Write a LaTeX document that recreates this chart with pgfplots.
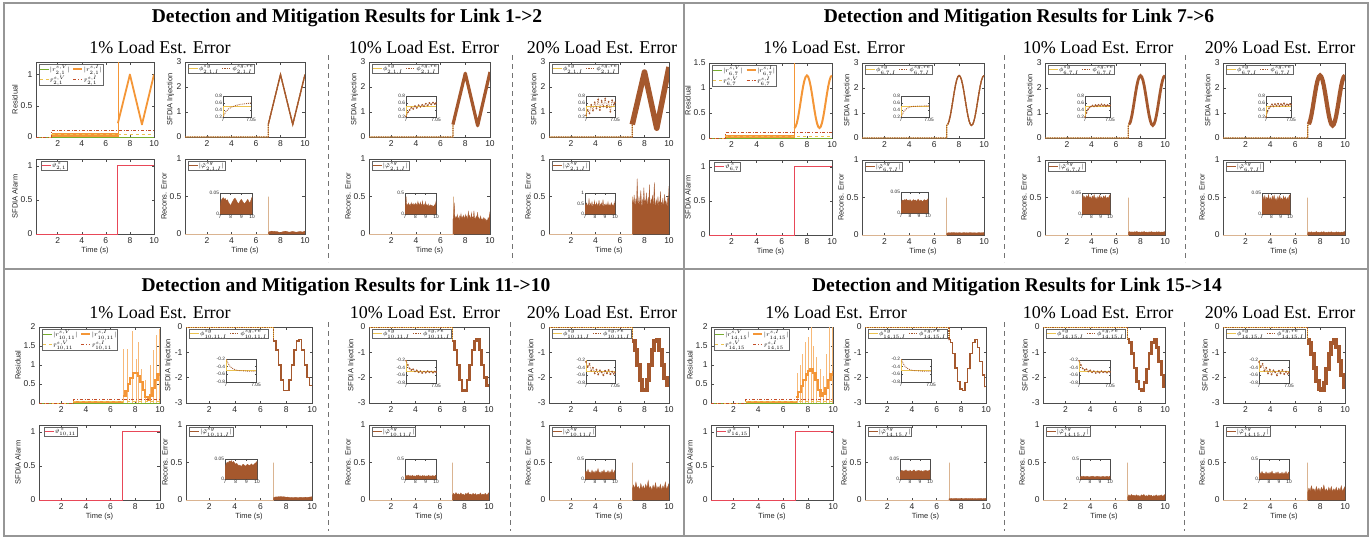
\documentclass[border=0pt]{standalone}
\usepackage{fontspec}
\setmainfont{Liberation Serif}
\setsansfont{Liberation Sans}
\usepackage{pgfplots}
\pgfplotsset{compat=1.18}
\usepackage{pgfplotstable}

\definecolor{cgreen}{RGB}{119,172,48}
\definecolor{corange}{RGB}{244,150,55}
\definecolor{clorange}{RGB}{247,185,120}
\definecolor{cyellow}{RGB}{236,195,80}
\definecolor{cdred}{RGB}{196,78,40}
\definecolor{cbrown}{RGB}{165,88,45}
\definecolor{ctan}{RGB}{218,180,145}
\definecolor{cred}{RGB}{232,72,88}
\definecolor{cframe}{RGB}{150,150,150}

\newcommand\tickf{\fontsize{8.5}{9}\selectfont\sffamily}
\newcommand\labf{\fontsize{7.5}{8}\selectfont\sffamily}
\newcommand\legf{\fontsize{6}{6.5}\selectfont}
\newcommand\insf{\fontsize{4.8}{5}\selectfont\sffamily}
\newcommand\hdf{\fontsize{18}{19}\selectfont}
\newcommand\ttf{\fontsize{19.5}{20}\selectfont\bfseries}

\pgfplotsset{
  mat/.style={scale only axis, anchor=north west, xmin=0.2, xmax=10, xtick={2,4,6,8,10},
    scaled ticks=false,
    axis line style={black!70, line width=0.6pt},
    tick align=inside, major tick length=2.5pt, tick style={black!70, line width=0.5pt},
    ticklabel style={font=\tickf, text=black!85},
    /pgf/number format/assume math mode=true,
    label style={font=\labf, text=black!85},
    xlabel style={yshift=3pt}, ylabel style={yshift=-4pt},
    legend style={font=\legf, draw=black!60, line width=0.4pt, inner sep=0.5pt, outer sep=0pt,
      at={(0.025,0.97)}, anchor=north west, fill=white, row sep=1.2pt,
      /tikz/every even column/.append style={column sep=2pt},
      nodes={inner sep=0.6pt}},
    legend cell align=left,
    legend image code/.code={\draw[##1] (0pt,0pt) -- (9pt,0pt);},
  },
  ins/.style={scale only axis, anchor=north west, axis background/.style={fill=white},
    scaled ticks=false,
    axis line style={black!70, line width=0.5pt}, tick align=inside, major tick length=1.5pt,
    tick style={black!70, line width=0.4pt},
    ticklabel style={font=\insf, text=black!85, inner sep=0.8pt},
    /pgf/number format/assume math mode=true,
  },
  insI/.style={ins, xmin=7, xmax=7.05, xtick={7,7.05}, xticklabels={7,7.05}},
  insIp/.style={insI, ymin=0.2, ymax=0.8, ytick={0.2,0.4,0.6,0.8}, yticklabels={0.2,0.4,0.6,0.8}},
  insIn/.style={insI, ymin=-0.8, ymax=-0.2, ytick={-0.8,-0.6,-0.4,-0.2}, yticklabels={-0.8,-0.6,-0.4,-0.2}},
  insE/.style={ins, xmin=7, xmax=10, xtick={7,8,9,10}, xticklabels={7,8,9,10}},
  res/.style={mat, ylabel={Residual}, legend columns=2, ymin=0},
  inj/.style={mat, ylabel={SFDIA Injection}, legend columns=2},
  alm/.style={mat, ylabel={SFDIA Alarm}, xlabel={Time (s)}, ymin=0, ymax=1.1, ytick={0,0.5,1}, clip=false,
    legend style={at={(0.04,0.965)}}},
  rec/.style={mat, ylabel={Recons. Error}, xlabel={Time (s)}, ymin=0, ymax=1, ytick={0,0.5,1}},
  yl/.style={cyellow, line width=0.9pt},
  brd/.style={cbrown, densely dotted, line width=1.3pt},
  fl/.style={draw=cbrown, fill=cbrown, line width=0.3pt},
  dts/.style={cbrown, densely dotted, line width=0.7pt, mark=*, mark size=0.45pt, mark options={solid}},
}

% ---------------- data ----------------
\pgfplotstableread{
t v
0.2 0
7 0
7 0.5
8 2.5
9 0.5
10 2.5
}\triI
\pgfplotstableread{
t v
0.2 0
7.0 0
7.0 0.50
7.1 0.55
7.2 0.69
7.3 0.91
7.4 1.19
7.5 1.50
7.6 1.81
7.7 2.09
7.8 2.31
7.9 2.45
8.0 2.50
8.1 2.45
8.2 2.31
8.3 2.09
8.4 1.81
8.5 1.50
8.6 1.19
8.7 0.91
8.8 0.69
8.9 0.55
9.0 0.50
9.1 0.55
9.2 0.69
9.3 0.91
9.4 1.19
9.5 1.50
9.6 1.81
9.7 2.09
9.8 2.31
9.9 2.45
10.0 2.50
}\sinI
\pgfplotstableread{
t v
7.0 0.200
7.1 0.226
7.2 0.300
7.3 0.416
7.4 0.563
7.5 0.725
7.6 0.887
7.7 1.034
7.8 1.150
7.9 1.224
8.0 1.250
8.1 1.224
8.2 1.150
8.3 1.034
8.4 0.887
8.5 0.725
8.6 0.563
8.7 0.416
8.8 0.300
8.9 0.226
9.0 0.200
9.1 0.226
9.2 0.300
9.3 0.416
9.4 0.563
9.5 0.725
9.6 0.887
9.7 1.034
9.8 1.150
9.9 1.224
10.0 1.250
}\sinR
\pgfplotstableread{
t v
0.2 0
7.0 -0.55
7.2 -0.91
7.4 -1.50
7.6 -2.09
7.8 -2.50
8.0 -2.50
8.2 -2.09
8.4 -1.50
8.6 -0.91
8.8 -0.55
9.0 -0.50
9.2 -0.91
9.4 -1.50
9.6 -2.00
9.8 -2.30
10.0 -2.30
}\stC
\pgfplotstableread{
t v
0.2 0
7.0 -0.50
7.1 -0.62
7.3 -1.05
7.5 -1.62
7.7 -2.15
7.9 -2.45
8.1 -2.50
8.3 -2.20
8.5 -1.65
8.7 -1.05
8.9 -0.62
9.1 -0.50
9.3 -0.80
9.5 -1.35
9.7 -1.90
9.9 -2.35
10.0 -2.35
}\stD
\pgfplotstableread{
t v
7.0 0.18
7.2 0.32
7.4 0.50
7.6 0.65
7.8 0.78
8.0 0.80
8.2 0.72
8.4 0.55
8.6 0.35
8.8 0.15
9.0 0.08
9.2 0.20
9.4 0.40
9.6 0.60
9.8 0.75
10.0 0.80
}\baseC
\pgfplotstableread{
t v
7.05 1.42
7.35 1.42
7.74 1.90
8.10 1.15
8.28 1.60
8.50 0.90
8.83 0.60
9.19 1.00
9.46 1.40
9.68 1.80
9.98 1.95
}\spkC
\pgfplotstableread{
t v
7.0 0.15
7.2 0.30
7.4 0.45
7.6 0.60
7.8 0.75
8.0 0.85
8.2 0.90
8.4 0.80
8.6 0.60
8.8 0.35
9.0 0.20
9.2 0.25
9.4 0.40
9.6 0.60
9.8 0.75
10.0 0.85
}\baseD
\pgfplotstableread{
t v
7.10 0.80
7.35 1.00
7.55 1.30
7.80 1.60
8.05 1.75
8.25 2.20
8.45 1.50
8.70 1.20
8.95 0.90
9.20 0.70
9.45 1.30
9.70 2.20
9.95 2.20
}\spkD
% recons tables
\pgfplotstableread{
t v
7.0 0.015
7.1 0.032
7.2 0.036
7.3 0.039
7.4 0.035
7.5 0.037
7.6 0.031
7.7 0.034
7.8 0.027
7.9 0.024
8.0 0.020
8.1 0.026
8.2 0.031
8.3 0.035
8.4 0.038
8.5 0.034
8.6 0.029
8.7 0.025
8.8 0.027
8.9 0.032
9.0 0.035
9.1 0.031
9.2 0.027
9.3 0.024
9.4 0.028
9.5 0.031
9.6 0.035
9.7 0.030
9.8 0.026
9.9 0.033
10.0 0.040
}\rA
\pgfplotstableread{
t v
7.00 0.20
7.05 0.22
7.10 0.42
7.15 0.24
7.20 0.19
7.25 0.23
7.30 0.21
7.35 0.26
7.40 0.20
7.45 0.22
7.50 0.18
7.55 0.24
7.60 0.21
7.65 0.27
7.70 0.20
7.75 0.23
7.80 0.19
7.85 0.25
7.90 0.22
7.95 0.20
8.00 0.26
8.05 0.21
8.10 0.24
8.15 0.19
8.20 0.23
8.25 0.30
8.30 0.21
8.35 0.25
8.40 0.20
8.45 0.22
8.50 0.28
8.55 0.19
8.60 0.23
8.65 0.21
8.70 0.31
8.75 0.20
8.80 0.22
8.85 0.18
8.90 0.24
8.95 0.20
9.00 0.29
9.05 0.19
9.10 0.22
9.15 0.18
9.20 0.21
9.25 0.24
9.30 0.18
9.35 0.20
9.40 0.17
9.45 0.22
9.50 0.19
9.55 0.21
9.60 0.17
9.65 0.20
9.70 0.16
9.75 0.19
9.80 0.17
9.85 0.22
9.90 0.18
9.95 0.24
10.00 0.30
}\rAb
\pgfplotstableread{
t v
7.00 0.40
7.05 0.45
7.10 0.36
7.15 0.52
7.20 0.41
7.25 0.38
7.30 0.47
7.35 0.35
7.40 0.74
7.45 0.42
7.50 0.39
7.55 0.50
7.60 0.37
7.65 0.44
7.70 0.58
7.75 0.40
7.80 0.36
7.85 0.46
7.90 0.42
7.95 0.62
8.00 0.38
8.05 0.45
8.10 0.40
8.15 0.55
8.20 0.37
8.25 0.43
8.30 0.48
8.35 0.39
8.40 0.66
8.45 0.41
8.50 0.36
8.55 0.47
8.60 0.40
8.65 0.52
8.70 0.38
8.75 0.44
8.80 0.69
8.85 0.40
8.90 0.35
8.95 0.46
9.00 0.42
9.05 0.38
9.10 0.50
9.15 0.36
9.20 0.43
9.25 0.40
9.30 0.57
9.35 0.37
9.40 0.42
9.45 0.39
9.50 0.48
9.55 0.35
9.60 0.41
9.65 0.53
9.70 0.38
9.75 0.44
9.80 0.40
9.85 0.36
9.90 0.49
9.95 0.42
10.00 0.64
}\rAc
\pgfplotstableread{
t v
7.0 0.020
7.1 0.030
7.2 0.031
7.3 0.029
7.4 0.032
7.5 0.030
7.6 0.033
7.7 0.029
7.8 0.031
7.9 0.028
8.0 0.032
8.1 0.030
8.2 0.027
8.3 0.030
8.4 0.032
8.5 0.029
8.6 0.031
8.7 0.028
8.8 0.030
8.9 0.033
9.0 0.030
9.1 0.028
9.2 0.031
9.3 0.029
9.4 0.027
9.5 0.030
9.6 0.032
9.7 0.029
9.8 0.031
9.9 0.030
10.0 0.034
}\rB
\pgfplotstableread{
t v
7.0 0.030
7.1 0.045
7.2 0.038
7.3 0.042
7.4 0.036
7.5 0.044
7.6 0.039
7.7 0.047
7.8 0.037
7.9 0.041
8.0 0.035
8.1 0.043
8.2 0.038
8.3 0.046
8.4 0.036
8.5 0.040
8.6 0.034
8.7 0.042
8.8 0.037
8.9 0.045
9.0 0.036
9.1 0.041
9.2 0.035
9.3 0.043
9.4 0.038
9.5 0.044
9.6 0.036
9.7 0.040
9.8 0.037
9.9 0.042
10.0 0.046
}\rBb
\pgfplotstableread{
t v
7.0 0.030
7.1 0.042
7.2 0.034
7.3 0.044
7.4 0.032
7.5 0.040
7.6 0.035
7.7 0.046
7.8 0.033
7.9 0.039
8.0 0.031
8.1 0.043
8.2 0.035
8.3 0.045
8.4 0.032
8.5 0.038
8.6 0.031
8.7 0.042
8.8 0.034
8.9 0.044
9.0 0.033
9.1 0.038
9.2 0.032
9.3 0.043
9.4 0.035
9.5 0.041
9.6 0.032
9.7 0.039
9.8 0.034
9.9 0.043
10.0 0.046
}\rBc
\pgfplotstableread{
t v
7.0 0.030
7.1 0.038
7.2 0.042
7.3 0.040
7.4 0.045
7.5 0.043
7.6 0.046
7.7 0.041
7.8 0.044
7.9 0.040
8.0 0.037
8.1 0.039
8.2 0.036
8.3 0.033
8.4 0.035
8.5 0.031
8.6 0.034
8.7 0.037
8.8 0.035
8.9 0.032
9.0 0.034
9.1 0.037
9.2 0.035
9.3 0.033
9.4 0.036
9.5 0.038
9.6 0.034
9.7 0.036
9.8 0.039
9.9 0.041
10.0 0.044
}\rC
\pgfplotstableread{
t v
7.0 0.060
7.1 0.090
7.2 0.070
7.3 0.100
7.4 0.075
7.5 0.085
7.6 0.065
7.7 0.095
7.8 0.070
7.9 0.080
8.0 0.060
8.1 0.090
8.2 0.075
8.3 0.100
8.4 0.070
8.5 0.080
8.6 0.065
8.7 0.090
8.8 0.070
8.9 0.085
9.0 0.060
9.1 0.080
9.2 0.070
9.3 0.095
9.4 0.065
9.5 0.080
9.6 0.070
9.7 0.090
9.8 0.065
9.9 0.080
10.0 0.100
}\rCb
\pgfplotstableread{
t v
7.0 0.14
7.1 0.20
7.2 0.15
7.3 0.24
7.4 0.16
7.5 0.18
7.6 0.13
7.7 0.22
7.8 0.15
7.9 0.19
8.0 0.14
8.1 0.21
8.2 0.16
8.3 0.26
8.4 0.15
8.5 0.18
8.6 0.13
8.7 0.20
8.8 0.15
8.9 0.23
9.0 0.14
9.1 0.18
9.2 0.15
9.3 0.21
9.4 0.13
9.5 0.19
9.6 0.15
9.7 0.24
9.8 0.14
9.9 0.18
10.0 0.22
}\rCc
\pgfplotstableread{
t v
7.0 0.015
7.1 0.020
7.2 0.022
7.3 0.019
7.4 0.021
7.5 0.020
7.6 0.023
7.7 0.019
7.8 0.021
7.9 0.018
8.0 0.022
8.1 0.020
8.2 0.019
8.3 0.021
8.4 0.023
8.5 0.020
8.6 0.018
8.7 0.021
8.8 0.020
8.9 0.022
9.0 0.019
9.1 0.021
9.2 0.020
9.3 0.018
9.4 0.021
9.5 0.020
9.6 0.022
9.7 0.019
9.8 0.021
9.9 0.020
10.0 0.023
}\rD
\pgfplotstableread{
t v
7.0 0.040
7.1 0.070
7.2 0.050
7.3 0.075
7.4 0.055
7.5 0.065
7.6 0.050
7.7 0.070
7.8 0.055
7.9 0.060
8.0 0.045
8.1 0.070
8.2 0.055
8.3 0.075
8.4 0.050
8.5 0.060
8.6 0.050
8.7 0.070
8.8 0.055
8.9 0.065
9.0 0.045
9.1 0.060
9.2 0.050
9.3 0.070
9.4 0.050
9.5 0.060
9.6 0.055
9.7 0.070
9.8 0.050
9.9 0.060
10.0 0.075
}\rDb
\pgfplotstableread{
t v
7.0 0.10
7.1 0.16
7.2 0.12
7.3 0.19
7.4 0.13
7.5 0.15
7.6 0.11
7.7 0.18
7.8 0.12
7.9 0.16
8.0 0.11
8.1 0.17
8.2 0.13
8.3 0.20
8.4 0.12
8.5 0.15
8.6 0.11
8.7 0.17
8.8 0.12
8.9 0.18
9.0 0.11
9.1 0.15
9.2 0.12
9.3 0.17
9.4 0.11
9.5 0.16
9.6 0.12
9.7 0.19
9.8 0.11
9.9 0.15
10.0 0.18
}\rDc

\begin{document}
\begin{tikzpicture}
\path[use as bounding box] (0pt,0pt) rectangle (1372pt,-539pt);
% frames
\draw[cframe, line width=1.3pt] (4pt,-3pt) rectangle (1368pt,-536pt);
\draw[cframe, line width=1.3pt] (684pt,-3pt) -- (684pt,-536pt);
\draw[cframe, line width=1.3pt] (4pt,-269pt) -- (1368pt,-269pt);
% separators
\begin{scope}[black!55, line width=0.9pt, dash pattern=on 5pt off 4pt]
\draw (328pt,-55pt) -- (328pt,-262pt);
\draw (512pt,-55pt) -- (512pt,-262pt);
\draw (1004pt,-55pt) -- (1004pt,-262pt);
\draw (1185pt,-55pt) -- (1185pt,-262pt);
\draw (328pt,-322pt) -- (328pt,-531pt);
\draw (510pt,-322pt) -- (510pt,-531pt);
\draw (1004pt,-322pt) -- (1004pt,-531pt);
\draw (1184pt,-322pt) -- (1184pt,-531pt);
\end{scope}
% titles
\node[font=\ttf] at (347pt,-18pt) {Detection and Mitigation Results for Link 1->2};
\node[font=\ttf] at (1019pt,-18pt) {Detection and Mitigation Results for Link 7->6};
\node[font=\ttf] at (346pt,-287pt) {Detection and Mitigation Results for Link 11->10};
\node[font=\ttf] at (1017pt,-287pt) {Detection and Mitigation Results for Link 15->14};
\node[font=\hdf] at (160pt,-47pt) {1\% Load Est. Error};
\node[font=\hdf] at (424pt,-47pt) {10\% Load Est. Error};
\node[font=\hdf] at (602pt,-47pt) {20\% Load Est. Error};
\node[font=\hdf] at (834pt,-47pt) {1\% Load Est. Error};
\node[font=\hdf] at (1098pt,-47pt) {10\% Load Est. Error};
\node[font=\hdf] at (1280pt,-47pt) {20\% Load Est. Error};
\node[font=\hdf] at (160pt,-312pt) {1\% Load Est. Error};
\node[font=\hdf] at (425pt,-312pt) {10\% Load Est. Error};
\node[font=\hdf] at (602pt,-312pt) {20\% Load Est. Error};
\node[font=\hdf] at (836pt,-312pt) {1\% Load Est. Error};
\node[font=\hdf] at (1098pt,-312pt) {10\% Load Est. Error};
\node[font=\hdf] at (1280pt,-312pt) {20\% Load Est. Error};

% ================= Q1 : Link 1->2 =================
\begin{axis}[res, at={(36pt,-62pt)}, width=118pt, height=75pt, ymax=1.2, ytick={0,0.5,1}]
\addplot[corange, fill=corange, forget plot, line width=0.3pt] coordinates {(1.5,0.06) (7,0.06)} \closedcycle;
\addplot[corange, line width=0.6pt, forget plot] coordinates {(7,0) (7,1.3)};
\addplot[cgreen, line width=0.8pt] coordinates {(0.2,0) (10,0)};
\addlegendentry{$|r^{s,V}_{2,1}|$}
\addplot[corange, line width=1.8pt, line join=round] coordinates {(7,0.22) (8,1) (9,0.2) (10,1)};
\addlegendentry{$|r^{s,I}_{2,1}|$}
\addplot[cyellow, dashed, line width=0.9pt] coordinates {(0.2,0) (1.5,0) (1.5,0.04) (10,0.04)};
\addlegendentry{$\bar r^{s,V}_{2,1}$}
\addplot[cdred, dashdotted, line width=1pt] coordinates {(0.2,0) (1.5,0) (1.5,0.1) (10,0.1)};
\addlegendentry{$\bar r^{s,I}_{2,1}$}
\end{axis}
\begin{axis}[inj, at={(185pt,-62pt)}, width=120pt, height=75pt, ymin=0, ymax=3, ytick={0,1,2,3}]
\addplot[yl] table[x=t,y=v]{\triI};
\addlegendentry{$\phi^{sg}_{2,1,I}$}
\addplot[brd] table[x=t,y=v]{\triI};
\addlegendentry{$\phi^{sg,re}_{2,1,I}$}
\addplot[cbrown, line width=1.3pt, line join=round, forget plot] coordinates {(7,0.5) (8,2.5) (9,0.5) (10,2.5)};
\end{axis}
\begin{axis}[insIp, at={(223pt,-96pt)}, width=28pt, height=21pt]
\addplot[yl] coordinates {(7,0.2) (7,0.5) (7.05,0.5)};
\addplot[cbrown, densely dotted, line width=0.9pt] coordinates {(7,0.2) (7.002,0.27) (7.005,0.35) (7.01,0.43) (7.015,0.48) (7.02,0.51) (7.025,0.54) (7.03,0.56) (7.04,0.58) (7.05,0.6)};
\end{axis}
\begin{axis}[alm, at={(36pt,-159pt)}, width=118pt, height=75pt]
\addplot[cred, line width=1pt] coordinates {(0.2,0) (7,0) (7,1) (10,1)};
\addlegendentry{$\vartheta^{\,s}_{2,1}$}
\end{axis}
\begin{axis}[rec, at={(185pt,-159pt)}, width=120pt, height=75pt]
\addlegendimage{cbrown, line width=0.8pt}
\addlegendentry{$|\tilde{\varphi}^{sg}_{2,1,I}|$}
\addplot[ctan, line width=0.8pt] coordinates {(0.2,0) (7,0) (7,0.5) (7,0)};
\addplot[fl] table[x=t,y=v]{\rA} \closedcycle;
\end{axis}
\begin{axis}[insE, at={(220pt,-193pt)}, width=32pt, height=21pt, ymin=0, ymax=0.05, ytick={0,0.05}, yticklabels={0,0.05}]
\addplot[fl] table[x=t,y=v]{\rA} \closedcycle;
\end{axis}
% Q1 10%
\begin{axis}[inj, at={(369pt,-62pt)}, width=121pt, height=75pt, ymin=0, ymax=3, ytick={0,1,2,3}]
\addplot[yl] table[x=t,y=v]{\triI};
\addlegendentry{$\phi^{sg}_{2,1,I}$}
\addplot[brd] table[x=t,y=v]{\triI};
\addlegendentry{$\phi^{sg,re}_{2,1,I}$}
\addplot[cbrown, line width=3.2pt, line join=round, forget plot] coordinates {(7,0.5) (8,2.55) (9,0.45) (10,2.6)};
\end{axis}
\begin{axis}[insIp, at={(406pt,-96pt)}, width=30pt, height=21pt]
\addplot[yl] coordinates {(7,0.2) (7,0.5) (7.05,0.5)};
\addplot[dts] coordinates {(7,0.22) (7.003,0.33) (7.006,0.4) (7.009,0.47) (7.012,0.43) (7.015,0.51) (7.018,0.46) (7.021,0.54) (7.024,0.49) (7.027,0.55) (7.03,0.51) (7.033,0.58) (7.036,0.53) (7.039,0.6) (7.042,0.56) (7.045,0.61) (7.048,0.57) (7.05,0.6)};
\end{axis}
\begin{axis}[rec, at={(369pt,-159pt)}, width=121pt, height=75pt]
\addlegendimage{cbrown, line width=0.8pt}
\addlegendentry{$|\tilde{\varphi}^{sg}_{2,1,I}|$}
\addplot[ctan, line width=0.8pt] coordinates {(0.2,0) (7,0) (7,0.5) (7,0)};
\addplot[fl] table[x=t,y=v]{\rAb} \closedcycle;
\end{axis}
\begin{axis}[insE, at={(405pt,-193pt)}, width=31pt, height=21pt, ymin=0, ymax=0.5, ytick={0,0.5}, yticklabels={0,0.5}]
\addplot[fl] table[x=t,y=v]{\rAb} \closedcycle;
\end{axis}
% Q1 20%
\begin{axis}[inj, at={(549pt,-62pt)}, width=120pt, height=75pt, ymin=0, ymax=3, ytick={0,1,2,3}]
\addplot[yl] table[x=t,y=v]{\triI};
\addlegendentry{$\phi^{sg}_{2,1,I}$}
\addplot[brd] table[x=t,y=v]{\triI};
\addlegendentry{$\phi^{sg,re}_{2,1,I}$}
\addplot[cbrown, line width=5.5pt, line join=round, forget plot] coordinates {(7,0.5) (8,2.6) (9,0.35) (10,2.8)};
\end{axis}
\begin{axis}[insIp, at={(586pt,-96pt)}, width=29pt, height=21pt]
\addplot[yl] coordinates {(7,0.2) (7,0.5) (7.05,0.5)};
\addplot[dts] coordinates {(7,0.25) (7.003,0.4) (7.006,0.3) (7.009,0.55) (7.012,0.38) (7.015,0.62) (7.018,0.45) (7.021,0.7) (7.024,0.4) (7.027,0.66) (7.03,0.5) (7.033,0.72) (7.036,0.48) (7.039,0.64) (7.042,0.35) (7.045,0.68) (7.048,0.55) (7.05,0.62)};
\end{axis}
\begin{axis}[rec, at={(549pt,-159pt)}, width=120pt, height=75pt]
\addlegendimage{cbrown, line width=0.8pt}
\addlegendentry{$|\tilde{\varphi}^{sg}_{2,1,I}|$}
\addplot[ctan, line width=0.8pt] coordinates {(0.2,0) (7,0) (7,0.5) (7,0)};
\addplot[fl] table[x=t,y=v]{\rAc} \closedcycle;
\end{axis}
\begin{axis}[insE, at={(585pt,-193pt)}, width=30pt, height=21pt, ymin=0, ymax=1, ytick={0,0.5,1}, yticklabels={0,0.5,1}]
\addplot[fl] table[x=t,y=v]{\rAc} \closedcycle;
\end{axis}

% ================= Q2 : Link 7->6 =================
\begin{axis}[res, at={(709pt,-63pt)}, width=123pt, height=75pt, ymax=1.5, ytick={0,0.5,1,1.5}]
\addplot[corange, fill=corange, forget plot, line width=0.3pt] coordinates {(1.5,0.06) (7,0.06)} \closedcycle;
\addplot[corange, line width=0.6pt, forget plot] coordinates {(7,0) (7,1.6)};
\addplot[cgreen, line width=0.8pt] coordinates {(0.2,0) (10,0)};
\addlegendentry{$|r^{s,V}_{6,7}|$}
\addplot[corange, line width=2pt] table[x=t,y=v]{\sinR};
\addlegendentry{$|r^{s,I}_{6,7}|$}
\addplot[cyellow, dashed, line width=0.9pt] coordinates {(0.2,0) (1.5,0) (1.5,0.04) (10,0.04)};
\addlegendentry{$\bar r^{s,V}_{6,7}$}
\addplot[cdred, dashdotted, line width=1pt] coordinates {(0.2,0) (1.5,0) (1.5,0.11) (10,0.11)};
\addlegendentry{$\bar r^{s,I}_{6,7}$}
\end{axis}
\begin{axis}[inj, at={(862pt,-63pt)}, width=122pt, height=75pt, ymin=0, ymax=3, ytick={0,1,2,3}]
\addplot[yl] table[x=t,y=v]{\sinI};
\addlegendentry{$\phi^{sg}_{6,7,I}$}
\addplot[brd] table[x=t,y=v]{\sinI};
\addlegendentry{$\phi^{sg,re}_{6,7,I}$}
\addplot[cbrown, line width=1.3pt, restrict x to domain=7.05:10, forget plot] table[x=t,y=v]{\sinI};
\end{axis}
\begin{axis}[insIp, at={(901pt,-96pt)}, width=28pt, height=21pt]
\addplot[yl] coordinates {(7,0.2) (7,0.5) (7.05,0.5)};
\addplot[cbrown, densely dotted, line width=0.9pt] coordinates {(7,0.2) (7.003,0.3) (7.006,0.38) (7.01,0.44) (7.015,0.48) (7.02,0.5) (7.03,0.51) (7.05,0.52)};
\end{axis}
\begin{axis}[alm, at={(709pt,-160pt)}, width=123pt, height=75pt]
\addplot[cred, line width=1pt] coordinates {(0.2,0) (7,0) (7,1) (10,1)};
\addlegendentry{$\vartheta^{\,s}_{6,7}$}
\end{axis}
\begin{axis}[rec, at={(862pt,-160pt)}, width=122pt, height=75pt]
\addlegendimage{cbrown, line width=0.8pt}
\addlegendentry{$|\tilde{\varphi}^{sg}_{6,7,I}|$}
\addplot[ctan, line width=0.8pt] coordinates {(0.2,0) (7,0) (7,0.5) (7,0)};
\addplot[fl] table[x=t,y=v]{\rB} \closedcycle;
\end{axis}
\begin{axis}[insE, at={(901pt,-192pt)}, width=27pt, height=21pt, ymin=0, ymax=0.05, ytick={0,0.05}, yticklabels={0,0.05}]
\addplot[fl] table[x=t,y=v]{\rB} \closedcycle;
\end{axis}
% Q2 10%
\begin{axis}[inj, at={(1045pt,-63pt)}, width=120pt, height=75pt, ymin=0, ymax=3, ytick={0,1,2,3}]
\addplot[yl] table[x=t,y=v]{\sinI};
\addlegendentry{$\phi^{sg}_{6,7,I}$}
\addplot[brd] table[x=t,y=v]{\sinI};
\addlegendentry{$\phi^{sg,re}_{6,7,I}$}
\addplot[cbrown, line width=2.8pt, restrict x to domain=7.05:10, forget plot] table[x=t,y=v]{\sinI};
\end{axis}
\begin{axis}[insIp, at={(1085pt,-96pt)}, width=25pt, height=21pt]
\addplot[yl] coordinates {(7,0.2) (7,0.5) (7.05,0.5)};
\addplot[dts] coordinates {(7,0.2) (7.003,0.32) (7.006,0.42) (7.009,0.47) (7.012,0.5) (7.015,0.53) (7.018,0.5) (7.021,0.54) (7.024,0.51) (7.027,0.55) (7.03,0.52) (7.033,0.56) (7.036,0.52) (7.039,0.55) (7.042,0.51) (7.045,0.54) (7.048,0.52) (7.05,0.53)};
\end{axis}
\begin{axis}[rec, at={(1045pt,-160pt)}, width=120pt, height=75pt]
\addlegendimage{cbrown, line width=0.8pt}
\addlegendentry{$|\tilde{\varphi}^{sg}_{6,7,I}|$}
\addplot[ctan, line width=0.8pt] coordinates {(0.2,0) (7,0) (7,0.5) (7,0)};
\addplot[fl] table[x=t,y=v]{\rBb} \closedcycle;
\end{axis}
\begin{axis}[insE, at={(1082pt,-193pt)}, width=28pt, height=21pt, ymin=0, ymax=0.05, ytick={0,0.05}, yticklabels={0,0.05}]
\addplot[fl] table[x=t,y=v]{\rBb} \closedcycle;
\end{axis}
% Q2 20%
\begin{axis}[inj, at={(1223pt,-63pt)}, width=122pt, height=75pt, ymin=0, ymax=3, ytick={0,1,2,3}]
\addplot[yl] table[x=t,y=v]{\sinI};
\addlegendentry{$\phi^{sg}_{6,7,I}$}
\addplot[brd] table[x=t,y=v]{\sinI};
\addlegendentry{$\phi^{sg,re}_{6,7,I}$}
\addplot[cbrown, line width=4.2pt, restrict x to domain=7.05:10, forget plot] table[x=t,y=v]{\sinI};
\end{axis}
\begin{axis}[insIp, at={(1266pt,-96pt)}, width=25pt, height=21pt]
\addplot[yl] coordinates {(7,0.2) (7,0.5) (7.05,0.5)};
\addplot[dts] coordinates {(7,0.2) (7.003,0.35) (7.006,0.45) (7.009,0.5) (7.012,0.56) (7.015,0.5) (7.018,0.57) (7.021,0.52) (7.024,0.58) (7.027,0.51) (7.03,0.57) (7.033,0.53) (7.036,0.59) (7.039,0.52) (7.042,0.56) (7.045,0.54) (7.048,0.57) (7.05,0.55)};
\end{axis}
\begin{axis}[rec, at={(1223pt,-160pt)}, width=122pt, height=75pt]
\addlegendimage{cbrown, line width=0.8pt}
\addlegendentry{$|\tilde{\varphi}^{sg}_{6,7,I}|$}
\addplot[ctan, line width=0.8pt] coordinates {(0.2,0) (7,0) (7,0.5) (7,0)};
\addplot[fl] table[x=t,y=v]{\rBc} \closedcycle;
\end{axis}
\begin{axis}[insE, at={(1262pt,-193pt)}, width=28pt, height=21pt, ymin=0, ymax=0.05, ytick={0,0.05}, yticklabels={0,0.05}]
\addplot[fl] table[x=t,y=v]{\rBc} \closedcycle;
\end{axis}

% ================= Q3 : Link 11->10 =================
\begin{axis}[res, at={(39pt,-327pt)}, width=121pt, height=76pt, ymax=2, ytick={0,0.5,1,1.5,2}]
\addplot[corange, fill=corange, forget plot, line width=0.3pt] coordinates {(3,0.06) (7,0.06)} \closedcycle;
\addplot[clorange, ycomb, line width=0.7pt, forget plot] table[x=t,y=v]{\spkC};
\addplot[cgreen, line width=0.8pt] coordinates {(0.2,0) (10,0)};
\addlegendentry{$|r^{s,V}_{10,11}|$}
\addplot[corange, line width=2.2pt, const plot] table[x=t,y=v]{\baseC};
\addlegendentry{$|r^{s,I}_{10,11}|$}
\addplot[cyellow, dashed, line width=0.9pt] coordinates {(0.2,0) (3,0) (3,0.05) (10,0.05)};
\addlegendentry{$\bar r^{s,V}_{10,11}$}
\addplot[cdred, dashdotted, line width=1pt] coordinates {(0.2,0) (3,0) (3,0.1) (10,0.1)};
\addlegendentry{$\bar r^{s,I}_{10,11}$}
\end{axis}
\begin{axis}[inj, at={(186pt,-327pt)}, width=126pt, height=76pt, ymin=-3, ymax=0, ytick={-3,-2,-1,0}]
\addplot[yl, const plot] table[x=t,y=v]{\stC};
\addlegendentry{$\phi^{sg}_{10,11,I}$}
\addplot[brd, const plot] table[x=t,y=v]{\stC};
\addlegendentry{$\phi^{sg,re}_{10,11,I}$}
\addplot[cbrown, line width=1.3pt, const plot, restrict x to domain=6.99:10, forget plot] table[x=t,y=v]{\stC};
\end{axis}
\begin{axis}[insIn, at={(226pt,-359pt)}, width=30pt, height=23pt]
\addplot[yl] coordinates {(7,-0.2) (7,-0.5) (7.05,-0.5)};
\addplot[cbrown, densely dotted, line width=0.9pt] coordinates {(7,-0.2) (7.003,-0.3) (7.006,-0.38) (7.01,-0.44) (7.015,-0.48) (7.02,-0.5) (7.03,-0.51) (7.04,-0.52) (7.05,-0.52)};
\end{axis}
\begin{axis}[alm, at={(39pt,-425pt)}, width=121pt, height=75pt]
\addplot[cred, line width=1pt] coordinates {(0.2,0) (7,0) (7,1) (10,1)};
\addlegendentry{$\vartheta^{\,s}_{10,11}$}
\end{axis}
\begin{axis}[rec, at={(186pt,-425pt)}, width=126pt, height=75pt]
\addlegendimage{cbrown, line width=0.8pt}
\addlegendentry{$|\tilde{\varphi}^{sg}_{10,11,I}|$}
\addplot[ctan, line width=0.8pt] coordinates {(0.2,0) (7,0) (7,0.5) (7,0)};
\addplot[fl] table[x=t,y=v]{\rC} \closedcycle;
\end{axis}
\begin{axis}[insE, at={(225pt,-459pt)}, width=32pt, height=20pt, ymin=0, ymax=0.05, ytick={0,0.05}, yticklabels={0,0.05}]
\addplot[fl] table[x=t,y=v]{\rC} \closedcycle;
\end{axis}
% Q3 10%
\begin{axis}[inj, at={(369pt,-327pt)}, width=120pt, height=76pt, ymin=-3, ymax=0, ytick={-3,-2,-1,0}]
\addplot[yl, const plot] table[x=t,y=v]{\stC};
\addlegendentry{$\phi^{sg}_{10,11,I}$}
\addplot[brd, const plot] table[x=t,y=v]{\stC};
\addlegendentry{$\phi^{sg,re}_{10,11,I}$}
\addplot[cbrown, line width=2.6pt, const plot, restrict x to domain=6.99:10, forget plot] table[x=t,y=v]{\stC};
\end{axis}
\begin{axis}[insIn, at={(406pt,-360pt)}, width=30pt, height=23pt]
\addplot[yl] coordinates {(7,-0.2) (7,-0.5) (7.05,-0.5)};
\addplot[dts] coordinates {(7,-0.22) (7.003,-0.33) (7.006,-0.42) (7.009,-0.46) (7.012,-0.44) (7.015,-0.5) (7.018,-0.47) (7.021,-0.52) (7.024,-0.49) (7.027,-0.54) (7.03,-0.5) (7.033,-0.53) (7.036,-0.49) (7.039,-0.52) (7.042,-0.5) (7.045,-0.53) (7.048,-0.5) (7.05,-0.51)};
\end{axis}
\begin{axis}[rec, at={(369pt,-425pt)}, width=120pt, height=75pt]
\addlegendimage{cbrown, line width=0.8pt}
\addlegendentry{$|\tilde{\varphi}^{sg}_{10,11,I}|$}
\addplot[ctan, line width=0.8pt] coordinates {(0.2,0) (7,0) (7,0.5) (7,0)};
\addplot[fl] table[x=t,y=v]{\rCb} \closedcycle;
\end{axis}
\begin{axis}[insE, at={(405pt,-459pt)}, width=31pt, height=20pt, ymin=0, ymax=0.5, ytick={0,0.5}, yticklabels={0,0.5}]
\addplot[fl] table[x=t,y=v]{\rCb} \closedcycle;
\end{axis}
% Q3 20%
\begin{axis}[inj, at={(549pt,-327pt)}, width=120pt, height=76pt, ymin=-3, ymax=0, ytick={-3,-2,-1,0}]
\addplot[yl, const plot] table[x=t,y=v]{\stC};
\addlegendentry{$\phi^{sg}_{10,11,I}$}
\addplot[brd, const plot] table[x=t,y=v]{\stC};
\addlegendentry{$\phi^{sg,re}_{10,11,I}$}
\addplot[cbrown, line width=4pt, const plot, restrict x to domain=6.99:10, forget plot] table[x=t,y=v]{\stC};
\end{axis}
\begin{axis}[insIn, at={(586pt,-360pt)}, width=29pt, height=23pt]
\addplot[yl] coordinates {(7,-0.2) (7,-0.5) (7.05,-0.5)};
\addplot[dts] coordinates {(7,-0.25) (7.003,-0.38) (7.006,-0.3) (7.009,-0.48) (7.012,-0.4) (7.015,-0.55) (7.018,-0.45) (7.021,-0.58) (7.024,-0.47) (7.027,-0.52) (7.03,-0.6) (7.033,-0.48) (7.036,-0.55) (7.039,-0.46) (7.042,-0.57) (7.045,-0.5) (7.048,-0.56) (7.05,-0.52)};
\end{axis}
\begin{axis}[rec, at={(549pt,-425pt)}, width=120pt, height=75pt]
\addlegendimage{cbrown, line width=0.8pt}
\addlegendentry{$|\tilde{\varphi}^{sg}_{10,11,I}|$}
\addplot[ctan, line width=0.8pt] coordinates {(0.2,0) (7,0) (7,0.5) (7,0)};
\addplot[fl] table[x=t,y=v]{\rCc} \closedcycle;
\end{axis}
\begin{axis}[insE, at={(585pt,-459pt)}, width=30pt, height=20pt, ymin=0, ymax=0.5, ytick={0,0.5}, yticklabels={0,0.5}]
\addplot[fl] table[x=t,y=v]{\rCc} \closedcycle;
\end{axis}

% ================= Q4 : Link 15->14 =================
\begin{axis}[res, at={(711pt,-327pt)}, width=122pt, height=76pt, ymax=2, ytick={0,0.5,1,1.5,2}]
\addplot[corange, fill=corange, forget plot, line width=0.3pt] coordinates {(3,0.06) (7,0.06)} \closedcycle;
\addplot[clorange, ycomb, line width=0.7pt, forget plot] table[x=t,y=v]{\spkD};
\addplot[cgreen, line width=0.8pt] coordinates {(0.2,0) (10,0)};
\addlegendentry{$|r^{s,V}_{14,15}|$}
\addplot[corange, line width=2.2pt, const plot] table[x=t,y=v]{\baseD};
\addlegendentry{$|r^{s,I}_{14,15}|$}
\addplot[cyellow, dashed, line width=0.9pt] coordinates {(0.2,0) (3,0) (3,0.05) (10,0.05)};
\addlegendentry{$\bar r^{s,V}_{14,15}$}
\addplot[cdred, dashdotted, line width=1pt] coordinates {(0.2,0) (3,0) (3,0.1) (10,0.1)};
\addlegendentry{$\bar r^{s,I}_{14,15}$}
\end{axis}
\begin{axis}[inj, at={(865pt,-327pt)}, width=121pt, height=76pt, ymin=-3, ymax=0, ytick={-3,-2,-1,0}]
\addplot[yl, const plot] table[x=t,y=v]{\stD};
\addlegendentry{$\phi^{sg}_{14,15,I}$}
\addplot[brd, const plot] table[x=t,y=v]{\stD};
\addlegendentry{$\phi^{sg,re}_{14,15,I}$}
\addplot[cbrown, line width=1.3pt, const plot, restrict x to domain=6.99:10, forget plot] table[x=t,y=v]{\stD};
\end{axis}
\begin{axis}[insIn, at={(901pt,-359pt)}, width=30pt, height=23pt]
\addplot[yl] coordinates {(7,-0.2) (7,-0.5) (7.05,-0.5)};
\addplot[cbrown, densely dotted, line width=0.9pt] coordinates {(7,-0.2) (7.003,-0.3) (7.006,-0.38) (7.01,-0.44) (7.015,-0.48) (7.02,-0.5) (7.03,-0.51) (7.04,-0.52) (7.05,-0.52)};
\end{axis}
\begin{axis}[alm, at={(711pt,-425pt)}, width=122pt, height=75pt]
\addplot[cred, line width=1pt] coordinates {(0.2,0) (7,0) (7,1) (10,1)};
\addlegendentry{$\vartheta^{\,s}_{14,15}$}
\end{axis}
\begin{axis}[rec, at={(865pt,-425pt)}, width=121pt, height=75pt]
\addlegendimage{cbrown, line width=0.8pt}
\addlegendentry{$|\tilde{\varphi}^{sg}_{14,15,I}|$}
\addplot[ctan, line width=0.8pt] coordinates {(0.2,0) (7,0) (7,0.5) (7,0)};
\addplot[fl] table[x=t,y=v]{\rD} \closedcycle;
\end{axis}
\begin{axis}[insE, at={(900pt,-459pt)}, width=30pt, height=20pt, ymin=0, ymax=0.05, ytick={0,0.05}, yticklabels={0,0.05}]
\addplot[fl] table[x=t,y=v]{\rD} \closedcycle;
\end{axis}
% Q4 10%
\begin{axis}[inj, at={(1043pt,-327pt)}, width=122pt, height=76pt, ymin=-3, ymax=0, ytick={-3,-2,-1,0}]
\addplot[yl, const plot] table[x=t,y=v]{\stD};
\addlegendentry{$\phi^{sg}_{14,15,I}$}
\addplot[brd, const plot] table[x=t,y=v]{\stD};
\addlegendentry{$\phi^{sg,re}_{14,15,I}$}
\addplot[cbrown, line width=2.6pt, const plot, restrict x to domain=6.99:10, forget plot] table[x=t,y=v]{\stD};
\end{axis}
\begin{axis}[insIn, at={(1079pt,-360pt)}, width=31pt, height=23pt]
\addplot[yl] coordinates {(7,-0.2) (7,-0.5) (7.05,-0.5)};
\addplot[dts] coordinates {(7,-0.22) (7.003,-0.33) (7.006,-0.42) (7.009,-0.46) (7.012,-0.44) (7.015,-0.5) (7.018,-0.47) (7.021,-0.52) (7.024,-0.49) (7.027,-0.54) (7.03,-0.5) (7.033,-0.53) (7.036,-0.49) (7.039,-0.52) (7.042,-0.5) (7.045,-0.53) (7.048,-0.5) (7.05,-0.51)};
\end{axis}
\begin{axis}[rec, at={(1043pt,-425pt)}, width=122pt, height=75pt]
\addlegendimage{cbrown, line width=0.8pt}
\addlegendentry{$|\tilde{\varphi}^{sg}_{14,15,I}|$}
\addplot[ctan, line width=0.8pt] coordinates {(0.2,0) (7,0) (7,0.5) (7,0)};
\addplot[fl] table[x=t,y=v]{\rDb} \closedcycle;
\end{axis}
\begin{axis}[insE, at={(1080pt,-459pt)}, width=30pt, height=20pt, ymin=0, ymax=0.5, ytick={0,0.5}, yticklabels={0,0.5}]
\addplot[fl] table[x=t,y=v]{\rDb} \closedcycle;
\end{axis}
% Q4 20%
\begin{axis}[inj, at={(1223pt,-327pt)}, width=122pt, height=76pt, ymin=-3, ymax=0, ytick={-3,-2,-1,0}]
\addplot[yl, const plot] table[x=t,y=v]{\stD};
\addlegendentry{$\phi^{sg}_{14,15,I}$}
\addplot[brd, const plot] table[x=t,y=v]{\stD};
\addlegendentry{$\phi^{sg,re}_{14,15,I}$}
\addplot[cbrown, line width=4pt, const plot, restrict x to domain=6.99:10, forget plot] table[x=t,y=v]{\stD};
\end{axis}
\begin{axis}[insIn, at={(1259pt,-360pt)}, width=30pt, height=23pt]
\addplot[yl] coordinates {(7,-0.2) (7,-0.5) (7.05,-0.5)};
\addplot[dts] coordinates {(7,-0.25) (7.003,-0.38) (7.006,-0.3) (7.009,-0.48) (7.012,-0.4) (7.015,-0.55) (7.018,-0.45) (7.021,-0.58) (7.024,-0.47) (7.027,-0.52) (7.03,-0.6) (7.033,-0.48) (7.036,-0.55) (7.039,-0.46) (7.042,-0.57) (7.045,-0.5) (7.048,-0.56) (7.05,-0.52)};
\end{axis}
\begin{axis}[rec, at={(1223pt,-425pt)}, width=122pt, height=75pt]
\addlegendimage{cbrown, line width=0.8pt}
\addlegendentry{$|\tilde{\varphi}^{sg}_{14,15,I}|$}
\addplot[ctan, line width=0.8pt] coordinates {(0.2,0) (7,0) (7,0.5) (7,0)};
\addplot[fl] table[x=t,y=v]{\rDc} \closedcycle;
\end{axis}
\begin{axis}[insE, at={(1259pt,-459pt)}, width=30pt, height=20pt, ymin=0, ymax=0.5, ytick={0,0.5}, yticklabels={0,0.5}]
\addplot[fl] table[x=t,y=v]{\rDc} \closedcycle;
\end{axis}
\end{tikzpicture}
\end{document}
